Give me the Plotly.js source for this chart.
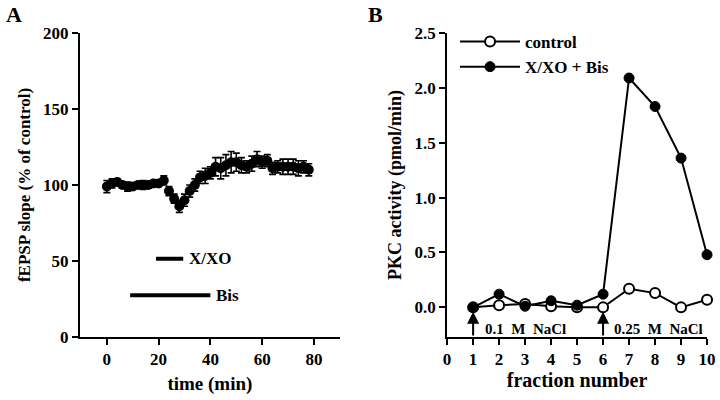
<!DOCTYPE html>
<html>
<head>
<meta charset="utf-8">
<script src="https://cdn.plot.ly/plotly-3.0.1.min.js"></script>
<style>html,body{margin:0;padding:0;background:#fff}#chart{width:720px;height:400px}</style>
</head>
<body>
<div id="chart"></div>
<script>
// Panel A: fEPSP slope over time
const timeMin = [0,2,4,6,8,10,12,14,16,18,20,22,24,26,28,30,32,34,36,38,40,42,44,46,48,50,52,54,56,58,60,62,64,66,68,70,72,74,76,78];
const slopePct = [99,101,102,100,99,99,100,100,100,101,101,103,96,91,86,90,96,100,105,106,108,112,111,113,115,115,113,112,114,117,115,116,111,112,112,112,112,111,112,110];
const slopeErr = [4,3,2,2,3,2,2,3,2,2,2,3,3,3,4,4,4,4,4,5,4,6,7,7,7,6,5,4,5,5,4,4,4,4,5,5,5,5,4,4];
const xxoBar = {label: "X/XO", start: 19, end: 29.5, level: 51.5};
const bisBar = {label: "Bis", start: 9, end: 40, level: 27.5};

// Panel B: PKC activity per fraction
const fraction = [1,2,3,4,5,6,7,8,9,10];
const pkcControl = [0,0.02,0.03,0.01,0.0,0.0,0.17,0.13,0.0,0.07];
const pkcXXOBis = [0,0.12,0.01,0.06,0.02,0.12,2.09,1.83,1.36,0.48];
const seriesNames = ["control", "X/XO + Bis"];
const elutionArrows = [1, 6];
const elutionLabels = [{x: 3.0, text: "0.1  M  NaCl"}, {x: 8.15, text: "0.25  M  NaCl"}];

const F = "Liberation Serif, Times New Roman, serif";
const bold = (size) => ({family: F, size: size, color: "#000", weight: 700});

const traces = [
  {x: timeMin, y: slopePct, type: "scatter", mode: "markers", xaxis: "x", yaxis: "y",
   marker: {color: "#000", size: 10}, showlegend: false, cliponaxis: false,
   error_y: {type: "data", array: slopeErr, color: "#000", thickness: 1.6, width: 3.5}},
  {x: [xxoBar.start, xxoBar.end], y: [xxoBar.level, xxoBar.level], type: "scatter", mode: "lines",
   xaxis: "x", yaxis: "y", line: {color: "#000", width: 4}, showlegend: false},
  {x: [bisBar.start, bisBar.end], y: [bisBar.level, bisBar.level], type: "scatter", mode: "lines",
   xaxis: "x", yaxis: "y", line: {color: "#000", width: 4}, showlegend: false},
  {x: fraction, y: pkcControl, type: "scatter", mode: "lines+markers", name: seriesNames[0],
   xaxis: "x2", yaxis: "y2", cliponaxis: false,
   line: {color: "#000", width: 2}, marker: {symbol: "circle", color: "#fff", size: 10, line: {color: "#000", width: 2}}},
  {x: fraction, y: pkcXXOBis, type: "scatter", mode: "lines+markers", name: seriesNames[1],
   xaxis: "x2", yaxis: "y2", cliponaxis: false,
   line: {color: "#000", width: 2}, marker: {symbol: "circle", color: "#000", size: 10, line: {color: "#000", width: 1}}}
];

const annotations = [
  {text: "A", xref: "paper", yref: "paper", x: 0.005, y: 1.0, xanchor: "left", yanchor: "top", showarrow: false, font: bold(22)},
  {text: "B", xref: "paper", yref: "paper", x: 0.508, y: 1.0, xanchor: "left", yanchor: "top", showarrow: false, font: bold(22)},
  {text: xxoBar.label, xref: "x", yref: "y", x: xxoBar.end + 1.5, y: xxoBar.level, xanchor: "left", yanchor: "middle", showarrow: false, font: bold(17)},
  {text: bisBar.label, xref: "x", yref: "y", x: bisBar.end + 1.5, y: bisBar.level, xanchor: "left", yanchor: "middle", showarrow: false, font: bold(17)}
];
elutionArrows.forEach(a => annotations.push({
  xref: "x2", yref: "y2", x: a, y: -0.04, ax: a, ay: -0.27, axref: "x2", ayref: "y2",
  showarrow: true, arrowhead: 2, arrowsize: 1.2, arrowwidth: 2, arrowcolor: "#000", text: ""
}));
elutionLabels.forEach(l => annotations.push({
  text: l.text, xref: "x2", yref: "y2", x: l.x, y: -0.20, xanchor: "center", yanchor: "middle",
  showarrow: false, font: bold(15)
}));

const axisCommon = {
  showline: true, linecolor: "#000", linewidth: 2, ticks: "outside", ticklen: 6, tickwidth: 2,
  tickcolor: "#000", showgrid: false, zeroline: false, tickfont: bold(17)
};

const layout = {
  width: 720, height: 400, margin: {l: 0, r: 0, t: 0, b: 0},
  paper_bgcolor: "#fff", plot_bgcolor: "#fff",
  font: {family: F, color: "#000"},
  xaxis: Object.assign({}, axisCommon, {domain: [0.111, 0.472], anchor: "y", range: [-10.4, 90],
    tickvals: [0,20,40,60,80], title: {text: "time (min)", font: bold(19), standoff: 8}}),
  yaxis: Object.assign({}, axisCommon, {domain: [0.1575, 0.9175], anchor: "x", range: [0, 200],
    tickvals: [0,50,100,150,200], title: {text: "fEPSP slope (% of control)", font: bold(17), standoff: 8}}),
  xaxis2: Object.assign({}, axisCommon, {domain: [0.621, 0.982], anchor: "y2", range: [0, 10],
    tickvals: [0,1,2,3,4,5,6,7,8,9,10], title: {text: "fraction number", font: bold(20), standoff: 5}}),
  yaxis2: Object.assign({}, axisCommon, {domain: [0.1575, 0.9175], anchor: "x2", range: [-0.27, 2.5],
    tickvals: [0,0.5,1,1.5,2,2.5], tickformat: ".1f", title: {text: "PKC activity (pmol/min)", font: bold(18), standoff: 8}}),
  showlegend: true,
  legend: {x: 0.632, y: 0.94, xanchor: "left", yanchor: "top", bgcolor: "rgba(0,0,0,0)",
    font: bold(17), itemwidth: 60, tracegroupgap: 0},
  annotations: annotations
};

Plotly.newPlot("chart", traces, layout, {displayModeBar: false, staticPlot: true});
</script>
</body>
</html>
